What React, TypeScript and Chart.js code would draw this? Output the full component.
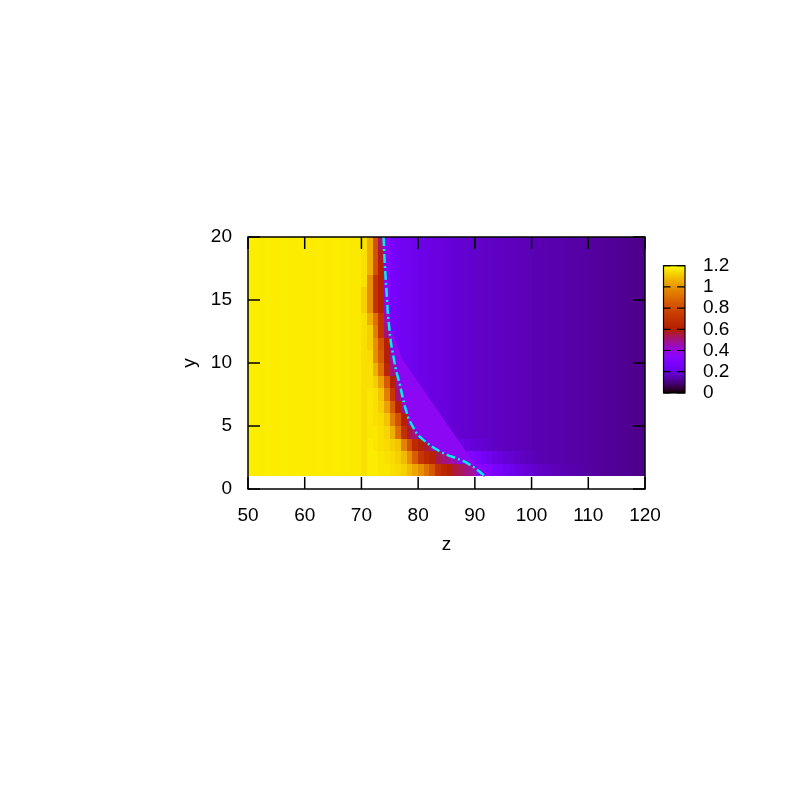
import React, { useEffect, useRef } from "react";
import { Chart, registerables } from "chart.js";

Chart.register(...registerables);

// ---- axes / colour bar ----
const X_TICKS = [50, 60, 70, 80, 90, 100, 110, 120];
const Y_TICKS = [0, 5, 10, 15, 20];
const CB_TICKS = [0, 0.2, 0.4, 0.6, 0.8, 1, 1.2];
const CB_LABELS = ["0", "0.2", "0.4", "0.6", "0.8", "1", "1.2"];
const CB_MIN = 0;
const CB_MAX = 1.2;

// ---- heat map grid: cells of 1 unit, z from 50, y from 1 ----
const CELL_Z_START = 50;
const CELL_Y_START = 1;

// typical row (values per z cell, z = 50..119)
const BASE_ROW = [
  1.172, 1.172, 1.17, 1.172, 1.17, 1.17, 1.172, 1.17, 1.17, 1.17,
  1.17, 1.168, 1.17, 1.17, 1.168, 1.17, 1.168, 1.168, 1.166, 1.164,
  1.15, 1.06, 0.82, 0.6, 0.33, 0.27, 0.25, 0.24, 0.23, 0.225,
  0.22, 0.215, 0.21, 0.205, 0.2, 0.195, 0.19, 0.185, 0.18, 0.178,
  0.175, 0.172, 0.17, 0.167, 0.165, 0.162, 0.16, 0.157, 0.155, 0.152,
  0.15, 0.148, 0.146, 0.144, 0.142, 0.14, 0.138, 0.136, 0.134, 0.132,
  0.13, 0.128, 0.126, 0.124, 0.122, 0.12, 0.117, 0.114, 0.111, 0.108,
];

// per row (y = 1..19) : first z cell index of the front values, and the values
const FRONT_START = [21, 21, 21, 21, 21, 21, 21, 21, 21, 21, 20, 20, 20, 20, 20, 21, 21, 23, 23];
const FRONT_VALUES = [
  [1.17, 1.17, 1.16, 1.16, 1.15, 1.14, 1.12, 1.08, 1.04, 0.99, 0.92, 0.84, 0.7, 0.64, 0.6, 0.56, 0.53, 0.5, 0.47, 0.34, 0.33, 0.3, 0.28, 0.26, 0.24, 0.225, 0.21, 0.2, 0.19, 0.18, 0.172, 0.165, 0.16, 0.155, 0.15, 0.146, 0.142, 0.138, 0.134],
  [1.17, 1.17, 1.16, 1.15, 1.14, 1.12, 1.08, 0.99, 0.86, 0.72, 0.66, 0.62, 0.54, 0.5, 0.47, 0.45, 0.33, 0.32, 0.3, 0.27, 0.25, 0.23, 0.215, 0.2, 0.19, 0.18, 0.172, 0.166, 0.16, 0.155],
  [1.17, 1.16, 1.15, 1.14, 1.12, 1.1, 0.96, 0.82, 0.66, 0.6, 0.56, 0.46, 0.22, 0.22, 0.22, 0.22, 0.22, 0.205, 0.195, 0.19, 0.182, 0.176, 0.17],
  [1.16, 1.16, 1.15, 1.13, 1.06, 0.91, 0.69, 0.56, 0.5],
  [1.16, 1.15, 1.14, 1.1, 0.95, 0.82, 0.6, 0.46],
  [1.16, 1.15, 1.12, 1.03, 0.85, 0.6, 0.46],
  [1.16, 1.15, 1.1, 0.95, 0.72, 0.5],
  [1.15, 1.12, 1.03, 0.85, 0.6, 0.46],
  [1.15, 1.06, 0.91, 0.64, 0.5],
  [1.14, 0.99, 0.85, 0.6, 0.46],
  [1.15, 1.12, 0.99, 0.82, 0.6],
  [1.15, 1.12, 0.95, 0.7, 0.5],
  [1.15, 1.06, 0.91, 0.7, 0.46],
  [1.12, 0.99, 0.7, 0.6, 0.4],
  [1.12, 0.99, 0.7, 0.6, 0.36],
  [0.99, 0.7, 0.6, 0.34],
  [1.06, 0.82, 0.6],
  [0.57],
  [0.52],
];

// cyan dash-dot contour
const CONTOUR_Z = [73.9, 74.1, 74.3, 74.45, 74.65, 74.9, 75.2, 75.6, 76.1, 76.8, 77.3, 77.7, 78.3, 79.1, 79.9, 80.9, 82.3, 83.9, 85.4, 86.8, 88.3, 89.7, 90.9, 91.8];
const CONTOUR_Y = [20, 18, 16.5, 15.5, 14, 12.8, 11.6, 10.6, 9.4, 8.25, 7.2, 6.5, 5.6, 4.9, 4.3, 3.9, 3.4, 2.96, 2.65, 2.44, 2.15, 1.77, 1.35, 1.0];

// lighter wedge right of the contour (outer edge)
const WEDGE_EDGE_Z = [74.67, 75.1, 75.9, 77.3, 91.5];
const WEDGE_EDGE_Y = [14.2, 13.0, 11.8, 10.24, 1.0];
const WEDGE_VALUE = 0.36;

const FONT = { family: '"Liberation Sans", Arial, Helvetica, sans-serif', size: 19 };
const FONT_CSS = '19px "Liberation Sans", Arial, Helvetica, sans-serif';

function palette(v: number): string {
  let t = (v - CB_MIN) / (CB_MAX - CB_MIN);
  t = Math.min(1, Math.max(0, t));
  const r = Math.sqrt(t);
  const g = t * t * t;
  const b = Math.max(0, Math.sin(2 * Math.PI * t));
  return `rgb(${Math.round(r * 255)},${Math.round(g * 255)},${Math.round(b * 255)})`;
}

const heatmapPlugin = {
  id: "heatmap",
  beforeDatasetsDraw(chart: any) {
    const { ctx, chartArea, scales } = chart;
    const x = scales.x;
    const y = scales.y;
    ctx.save();
    ctx.beginPath();
    ctx.rect(chartArea.left, chartArea.top, chartArea.right - chartArea.left, chartArea.bottom - chartArea.top);
    ctx.clip();
    for (let r = 0; r < FRONT_START.length; r++) {
      const start = FRONT_START[r];
      const vals = FRONT_VALUES[r];
      for (let c = 0; c < BASE_ROW.length; c++) {
        const v = c >= start && c < start + vals.length ? vals[c - start] : BASE_ROW[c];
        const x0 = Math.round(x.getPixelForValue(CELL_Z_START + c));
        const x1 = Math.round(x.getPixelForValue(CELL_Z_START + c + 1));
        const y0 = Math.round(y.getPixelForValue(CELL_Y_START + r + 1));
        const y1 = Math.round(y.getPixelForValue(CELL_Y_START + r));
        ctx.fillStyle = palette(v);
        ctx.fillRect(x0, y0, x1 - x0, y1 - y0);
      }
    }
    // wedge polygon: outer edge downwards, then back up along the contour
    ctx.beginPath();
    for (let i = 0; i < WEDGE_EDGE_Z.length; i++) {
      const px = x.getPixelForValue(WEDGE_EDGE_Z[i]);
      const py = y.getPixelForValue(WEDGE_EDGE_Y[i]);
      if (i === 0) ctx.moveTo(px, py);
      else ctx.lineTo(px, py);
    }
    for (let i = CONTOUR_Z.length - 1; i >= 0; i--) {
      if (CONTOUR_Y[i] >= WEDGE_EDGE_Y[0]) break;
      ctx.lineTo(x.getPixelForValue(CONTOUR_Z[i]), y.getPixelForValue(CONTOUR_Y[i]));
    }
    ctx.closePath();
    ctx.fillStyle = palette(WEDGE_VALUE);
    ctx.fill();
    ctx.restore();
  },
};

const framePlugin = {
  id: "frame",
  afterDatasetsDraw(chart: any) {
    const { ctx, chartArea, scales } = chart;
    const { left, right, top, bottom } = chartArea;
    const tl = 12;
    ctx.save();
    ctx.strokeStyle = "#000";
    ctx.lineWidth = 1.5;
    ctx.beginPath();
    for (const v of X_TICKS) {
      const px = scales.x.getPixelForValue(v);
      ctx.moveTo(px, bottom);
      ctx.lineTo(px, bottom - tl);
      ctx.moveTo(px, top);
      ctx.lineTo(px, top + tl);
    }
    for (const v of Y_TICKS) {
      const py = scales.y.getPixelForValue(v);
      ctx.moveTo(left, py);
      ctx.lineTo(left + tl, py);
      ctx.moveTo(right, py);
      ctx.lineTo(right - tl, py);
    }
    ctx.stroke();
    ctx.strokeRect(left, top, right - left, bottom - top);
    ctx.restore();
  },
};

const colorbarPlugin = {
  id: "colorbar",
  afterDraw(chart: any) {
    const { ctx, chartArea } = chart;
    const cbL = chartArea.right + 18.5;
    const cbR = cbL + 21.5;
    const cbT = chartArea.top + 28.7;
    const cbB = chartArea.top + 155.9;
    const toPx = (v: number) => cbB - ((v - CB_MIN) / (CB_MAX - CB_MIN)) * (cbB - cbT);
    ctx.save();
    for (let py = cbT; py < cbB; py += 1) {
      const h = Math.min(1, cbB - py);
      const v = CB_MIN + ((cbB - (py + h / 2)) / (cbB - cbT)) * (CB_MAX - CB_MIN);
      ctx.fillStyle = palette(v);
      ctx.fillRect(cbL, py, cbR - cbL, h + 0.3);
    }
    ctx.strokeStyle = "#000";
    ctx.lineWidth = 1.2;
    ctx.beginPath();
    for (const v of CB_TICKS) {
      const py = toPx(v);
      ctx.moveTo(cbL, py);
      ctx.lineTo(cbL + 7, py);
      ctx.moveTo(cbR - 8, py);
      ctx.lineTo(cbR, py);
    }
    ctx.stroke();
    ctx.strokeRect(cbL, cbT, cbR - cbL, cbB - cbT);
    ctx.fillStyle = "#000";
    ctx.font = FONT_CSS;
    ctx.textAlign = "left";
    ctx.textBaseline = "middle";
    CB_TICKS.forEach((v, i) => {
      ctx.fillText(CB_LABELS[i], cbR + 18, toPx(v));
    });
    ctx.restore();
  },
};

export default function App() {
  const ref = useRef<HTMLCanvasElement>(null);
  useEffect(() => {
    const canvas = ref.current;
    if (!canvas) return;
    const chart = new Chart(canvas, {
      type: "scatter",
      data: {
        datasets: [
          {
            label: "contour",
            data: CONTOUR_Z.map((z, i) => ({ x: z, y: CONTOUR_Y[i] })),
            showLine: true,
            borderColor: "#00eeee",
            borderWidth: 2.5,
            borderDash: [9, 3, 2, 3],
            pointRadius: 0,
            tension: 0,
            fill: false,
          },
        ],
      },
      options: {
        responsive: false,
        animation: false,
        events: [],
        layout: { padding: { left: 0, top: 237, right: 155, bottom: 231 } },
        plugins: {
          legend: { display: false },
          tooltip: { enabled: false },
          title: { display: false },
        },
        scales: {
          x: {
            type: "linear",
            min: 50,
            max: 120,
            afterBuildTicks: (s: any) => {
              s.ticks = X_TICKS.map((v) => ({ value: v }));
            },
            afterFit: (s: any) => {
              s.height = 80;
            },
            grid: { display: false, drawTicks: false },
            border: { display: false },
            ticks: {
              color: "#000",
              font: FONT,
              padding: 15,
              maxRotation: 0,
              autoSkip: false,
              callback: (v: any) => String(v),
            },
            title: { display: true, text: "z", color: "#000", font: FONT, padding: { top: 0, bottom: 12.6 } },
          },
          y: {
            type: "linear",
            min: 0,
            max: 20,
            afterBuildTicks: (s: any) => {
              s.ticks = Y_TICKS.map((v) => ({ value: v }));
            },
            afterFit: (s: any) => {
              s.width = 248;
            },
            grid: { display: false, drawTicks: false },
            border: { display: false },
            ticks: {
              color: "#000",
              font: FONT,
              padding: 16,
              autoSkip: false,
              callback: (v: any) => String(v),
            },
            title: { display: true, text: "y", color: "#000", font: FONT, padding: { top: 178, bottom: 0 } },
          },
        },
      },
      plugins: [heatmapPlugin, framePlugin, colorbarPlugin],
    } as any);
    return () => chart.destroy();
  }, []);
  return (
    <div style={{ position: "fixed", left: 0, top: 0, width: 800, height: 800, background: "#fff" }}>
      <canvas ref={ref} width={800} height={800} style={{ display: "block" }} />
    </div>
  );
}
